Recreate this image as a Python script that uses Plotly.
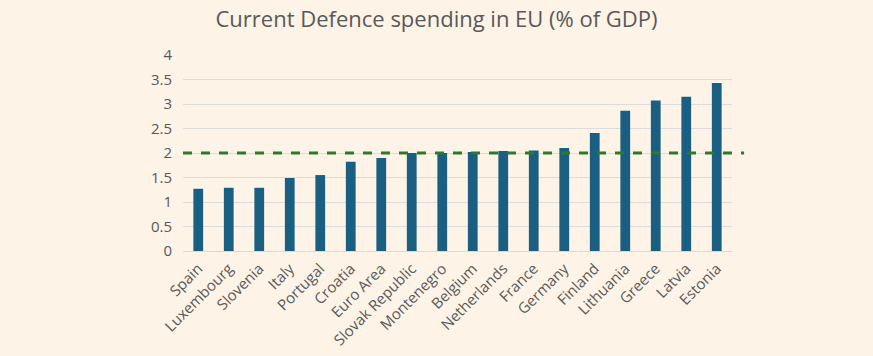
import plotly.graph_objects as go

countries = ["Spain", "Luxembourg", "Slovenia", "Italy", "Portugal", "Croatia", "Euro Area",
             "Slovak Republic", "Montenegro", "Belgium", "Netherlands", "France", "Germany",
             "Finland", "Lithuania", "Greece", "Latvia", "Estonia"]
spending = [1.27, 1.29, 1.29, 1.49, 1.55, 1.82, 1.90, 2.00, 2.00, 2.02, 2.04, 2.05, 2.10,
            2.41, 2.86, 3.07, 3.15, 3.43]
target = 2.0
y_ticks = [0, 0.5, 1, 1.5, 2, 2.5, 3, 3.5, 4]
y_tick_labels = ["0", "0.5", "1", "1.5", "2", "2.5", "3", "3.5", "4"]

bg = "#FDF3E6"
fig = go.Figure()
fig.add_trace(go.Bar(x=countries, y=spending, marker_color="#1A5F82", marker_line_width=0))
fig.add_shape(type="line", xref="paper", yref="y", x0=0, x1=1.022, y0=target, y1=target,
              line=dict(color="#2D7A2A", width=3, dash="dash"))
fig.update_layout(
    width=873, height=356,
    paper_bgcolor=bg, plot_bgcolor=bg,
    margin=dict(l=183, r=141, t=55, b=105),
    bargap=0.68,
    showlegend=False,
    title=dict(text="Current Defence spending in EU (% of GDP)", x=0.5, xanchor="center",
               y=0.945, yanchor="middle", font=dict(family="Open Sans", size=22, color="#595959")),
    font=dict(family="Open Sans", color="#595959", size=13),
)
fig.update_xaxes(tickangle=-45, showgrid=False, showline=True, linecolor="#D9D9D9",
                 tickfont=dict(size=15, color="#595959"), ticks="", automargin=False,
                 ticklabelstandoff=2)
fig.update_yaxes(range=[0, 4], tickvals=y_ticks, ticktext=y_tick_labels, showgrid=True,
                 gridcolor="#DCDCDC", gridwidth=1, zeroline=False, ticks="", ticklen=0,
                 tickfont=dict(size=15, color="#595959"), ticklabelstandoff=10, automargin=False)
fig.write_html("out.html", config={"displayModeBar": False},
               post_script="document.body.style.margin='0';document.body.style.padding='0';"
                           "document.body.style.background='" + bg + "';")
